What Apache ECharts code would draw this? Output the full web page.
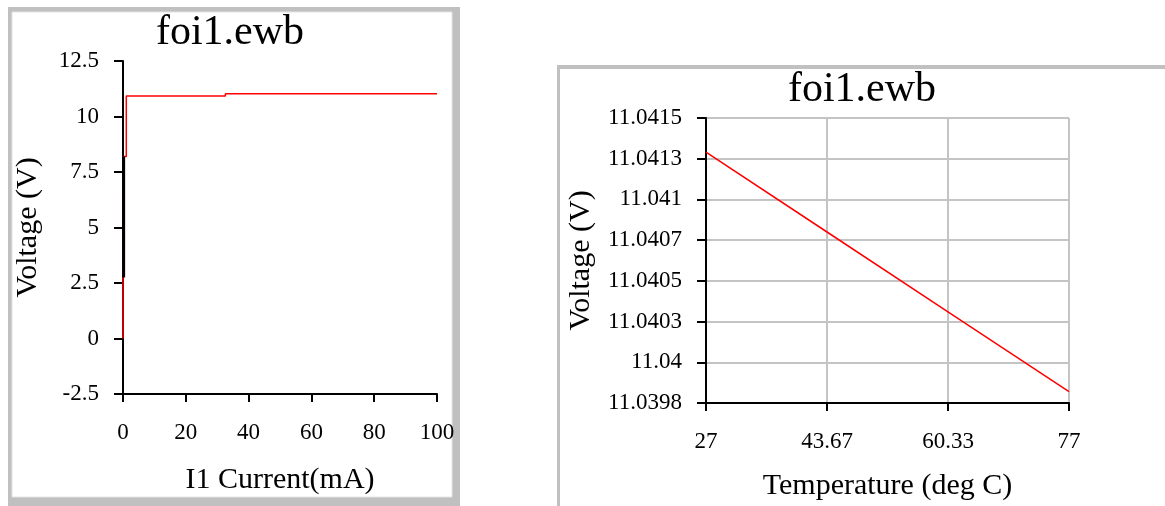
<!DOCTYPE html>
<html>
<head>
<meta charset="utf-8">
<title>foi1.ewb</title>
<script src="https://cdn.jsdelivr.net/npm/echarts@6/dist/echarts.min.js"></script>
<style>
    html, body { margin: 0; padding: 0; background: #fff; }
    #main { width: 1165px; height: 506px; }
</style>
</head>
<body>
<div id="main"></div>
<script>
// left plot: voltage vs I1 current sweep
var currentMA = [0, 0, 0.2, 0.2, 1.05, 1.05, 32.6, 32.6, 100];
var voltageSweep = [0, 2.75, 2.75, 8.2, 8.2, 10.92, 10.92, 11.02, 11.02];
// dark overlap drawn right on the y axis
var overlapMA = [0.2, 0.2];
var overlapV = [2.75, 8.2];
// right plot: voltage vs temperature
var tempC = [27, 43.67, 60.33, 77];
var voltageTemp = [11.04132, 11.04083, 11.04034, 11.03985];
// tick labels as printed on the right plot
var tempTicks = ['27', '43.67', '60.33', '77'];
var voltTicks = ['11.0398', '11.04', '11.0403', '11.0405', '11.0407', '11.041', '11.0413', '11.0415'];
var voltMin = 11.03978,
    voltStep = 0.00025;

var serif = 'Liberation Serif';

function zip(xs, ys) {
    var out = [];
    for (var i = 0; i < xs.length; i++) {
        out.push([xs[i], ys[i]]);
    }
    return out;
}

var titleStyle = { fontFamily: serif, fontSize: 42, fontWeight: 'normal', color: '#000' };
var nameStyle = { fontFamily: serif, fontSize: 30, color: '#000' };
var labelStyle = { fontFamily: serif, fontSize: 23, color: '#000' };
var blackLine = { lineStyle: { color: '#000', width: 2 }, onZero: false };
var blackTick = { length: 8, lineStyle: { color: '#000', width: 2 } };
var greySplit = { show: true, lineStyle: { color: '#c4c4c4', width: 2 } };

var chart = echarts.init(document.getElementById('main'));
var option = {
    animation: false,
    backgroundColor: '#fff',
    title: [{
        text: 'foi1.ewb',
        left: 230,
        top: 12,
        textAlign: 'center',
        padding: 0,
        textStyle: titleStyle
    }, {
        text: 'foi1.ewb',
        left: 862,
        top: 69,
        textAlign: 'center',
        padding: 0,
        textStyle: titleStyle
    }],
    graphic: [
        { type: 'rect', z: -10, silent: true, shape: { x: 8, y: 7, width: 452, height: 499 }, style: { fill: '#c0c0c0' } },
        { type: 'rect', z: -9, silent: true, shape: { x: 12, y: 12, width: 440, height: 485 }, style: { fill: '#fff', stroke: '#e4e4e4', lineWidth: 1 } },
        { type: 'rect', z: -10, silent: true, shape: { x: 557, y: 65, width: 620, height: 450 }, style: { fill: '#c0c0c0' } },
        { type: 'rect', z: -9, silent: true, shape: { x: 560, y: 69, width: 620, height: 450 }, style: { fill: '#fff' } }
    ],
    grid: [
        { left: 123, top: 61, width: 314, height: 333 },
        { left: 706, top: 118, width: 363, height: 285 }
    ],
    xAxis: [{
        gridIndex: 0,
        type: 'value',
        position: 'bottom',
        min: 0,
        max: 100,
        interval: 20,
        name: 'I1 Current(mA)',
        nameLocation: 'middle',
        nameGap: 71,
        nameTextStyle: nameStyle,
        axisLine: blackLine,
        axisTick: blackTick,
        axisLabel: Object.assign({ margin: 27 }, labelStyle),
        splitLine: { show: false }
    }, {
        // data axis for the temperature sweep
        gridIndex: 1,
        type: 'value',
        position: 'top',
        min: 27,
        max: 77,
        show: false
    }, {
        // printed ticks of the temperature axis
        gridIndex: 1,
        type: 'value',
        position: 'bottom',
        min: 0,
        max: 3,
        interval: 1,
        name: 'Temperature (deg C)',
        nameLocation: 'middle',
        nameGap: 68,
        nameTextStyle: nameStyle,
        axisLine: blackLine,
        axisTick: blackTick,
        axisLabel: Object.assign({
            margin: 27,
            formatter: function(v) { return tempTicks[Math.round(v)]; }
        }, labelStyle),
        splitLine: greySplit
    }],
    yAxis: [{
        gridIndex: 0,
        type: 'value',
        position: 'left',
        min: -2.5,
        max: 12.5,
        interval: 2.5,
        name: 'Voltage (V)',
        nameLocation: 'middle',
        nameGap: 80,
        nameTextStyle: nameStyle,
        axisLine: blackLine,
        axisTick: { length: 9, lineStyle: { color: '#000', width: 2 } },
        axisLabel: Object.assign({ margin: 24 }, labelStyle),
        splitLine: { show: false }
    }, {
        gridIndex: 1,
        type: 'value',
        position: 'right',
        min: voltMin,
        max: voltMin + 7 * voltStep,
        show: false
    }, {
        gridIndex: 1,
        type: 'value',
        position: 'left',
        min: 0,
        max: 7,
        interval: 1,
        name: 'Voltage (V)',
        nameLocation: 'middle',
        nameGap: 110,
        nameTextStyle: nameStyle,
        axisLine: blackLine,
        axisTick: { length: 9, lineStyle: { color: '#000', width: 2 } },
        axisLabel: Object.assign({
            margin: 24,
            formatter: function(v) { return voltTicks[Math.round(v)]; }
        }, labelStyle),
        splitLine: greySplit
    }],
    series: [{
        type: 'line',
        xAxisIndex: 0,
        yAxisIndex: 0,
        symbol: 'none',
        data: zip(currentMA, voltageSweep),
        lineStyle: { color: '#ff0000', width: 1.5 }
    }, {
        type: 'line',
        xAxisIndex: 0,
        yAxisIndex: 0,
        symbol: 'none',
        data: zip(overlapMA, overlapV),
        lineStyle: { color: '#000', width: 3 }
    }, {
        type: 'line',
        xAxisIndex: 1,
        yAxisIndex: 1,
        symbol: 'none',
        data: zip(tempC, voltageTemp),
        lineStyle: { color: '#ff0000', width: 1.5 }
    }]
};
chart.setOption(option);
</script>
</body>
</html>
